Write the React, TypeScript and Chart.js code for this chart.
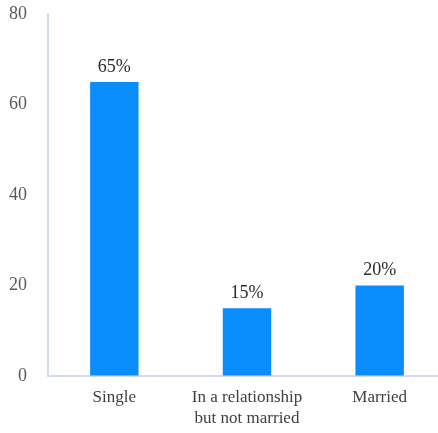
import React, { useEffect, useRef } from "react";
import { Chart, registerables } from "chart.js";

Chart.register(...registerables);

const categories: (string | string[])[] = ["Single", ["In a relationship", "but not married"], "Married"];
const values: number[] = [65, 15, 20];
const valueLabels: string[] = ["65%", "15%", "20%"];
const yTicks: number[] = [0, 20, 40, 60, 80];

const W = 448;
const H = 433;

const labelPlugin = {
  id: "valueLabels",
  afterDatasetsDraw(chart: any) {
    const ctx = chart.ctx;
    const meta = chart.getDatasetMeta(0);
    ctx.save();
    ctx.font = "18px 'Liberation Serif', serif";
    ctx.fillStyle = "#2b2b2b";
    ctx.textAlign = "center";
    ctx.textBaseline = "bottom";
    meta.data.forEach((bar: any, i: number) => {
      ctx.fillText(valueLabels[i], bar.x, bar.y - 6);
    });
    ctx.restore();
  },
};

export default function App() {
  const ref = useRef<HTMLCanvasElement | null>(null);
  useEffect(() => {
    document.body.style.margin = "0";
    document.body.style.overflow = "hidden";
    if (!ref.current) return;
    const chart = new Chart(ref.current, {
      type: "bar",
      data: {
        labels: categories as any,
        datasets: [{ data: values, backgroundColor: "#0a8cfd", barPercentage: 0.365, categoryPercentage: 1 }],
      },
      options: {
        animation: false,
        responsive: false,
        maintainAspectRatio: false,
        layout: { padding: { top: 14, right: 2, left: 0, bottom: 0 } },
        plugins: { legend: { display: false }, tooltip: { enabled: false } },
        scales: {
          y: {
            min: 0,
            max: 80,
            afterBuildTicks: (scale: any) => {
              scale.ticks = yTicks.map((v) => ({ value: v }));
            },
            afterFit: (scale: any) => {
              scale.width = 48;
              scale.paddingTop = 0;
              scale.paddingBottom = 0;
            },
            grid: { drawOnChartArea: false, drawTicks: false },
            border: { display: true, color: "#d3dcee", width: 2 },
            ticks: { padding: 21, color: "#595959", font: { family: "'Liberation Serif', serif", size: 18 } },
          },
          x: {
            afterFit: (scale: any) => {
              scale.height = H - 376;
              scale.paddingLeft = 0;
              scale.paddingRight = 0;
            },
            grid: { drawOnChartArea: false, drawTicks: false },
            border: { display: true, color: "#d3dcee", width: 2 },
            ticks: {
              padding: 11,
              color: "#404040",
              maxRotation: 0,
              font: { family: "'Liberation Serif', serif", size: 17, lineHeight: 1.25 },
            },
          },
        },
      },
      plugins: [labelPlugin],
    });
    return () => chart.destroy();
  }, []);
  return (
    <div style={{ width: W, height: H, position: "relative" }}>
      <canvas ref={ref} width={W} height={H} style={{ display: "block" }} />
    </div>
  );
}
